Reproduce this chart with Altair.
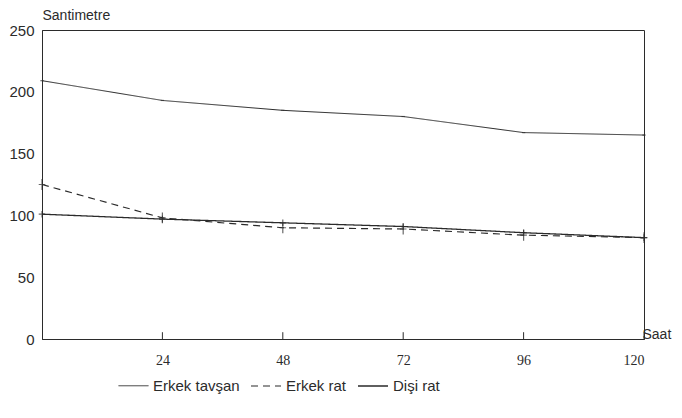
import altair as alt
import pandas as pd

hours = [0, 24, 48, 72, 96, 120]
series_names = ["Erkek tavşan", "Erkek rat", "Dişi rat"]
tavsan = [209, 193, 185, 180, 167, 165]
erkek_rat = [125, 98, 90, 89, 84, 82]
disi_rat = [101, 97, 94, 91, 86, 82]
y_ticks = [0, 50, 100, 150, 200, 250]
x_ticks = [24, 48, 72, 96, 120]

rows = []
for name, vals in zip(series_names, [tavsan, erkek_rat, disi_rat]):
    for h, v in zip(hours, vals):
        rows.append({"Saat": h, "Santimetre": v, "Seri": name})
df = pd.DataFrame(rows)
tick_df = pd.DataFrame({"Saat": x_ticks, "lo": [0] * len(x_ticks), "hi": [5.5] * len(x_ticks)})

ink = "#2b2b2b"
FONT = "Liberation Sans"

x = alt.X("Saat:Q", scale=alt.Scale(domain=[0, 120], nice=False),
          axis=alt.Axis(values=x_ticks, title="Saat", titleAngle=0, titleX=600,
                        titleY=-12, titleAlign="left", titleFontWeight="normal",
                        titleFontSize=14, titleColor=ink, titleFont=FONT,
                        ticks=False, domainColor=ink, grid=False,
                        labelFontSize=14, labelColor=ink, labelPadding=14,
                        labelFont="Liberation Serif"))
y = alt.Y("Santimetre:Q", scale=alt.Scale(domain=[0, 250], nice=False),
          axis=alt.Axis(values=y_ticks, title="Santimetre", titleAngle=0, titleX=0,
                        titleY=-8, titleAlign="left", titleBaseline="bottom",
                        titleFontWeight="normal",
                        titleFontSize=14, titleColor=ink, titleFont=FONT,
                        ticks=False, domainColor=ink, grid=False,
                        labelFontSize=15, labelColor=ink, labelPadding=8, labelFont=FONT))

lines = alt.Chart(df).mark_line(color=ink).encode(
    x=x, y=y,
    strokeDash=alt.StrokeDash("Seri:N", scale=alt.Scale(domain=series_names,
                              range=[[1, 0], [7, 5], [1, 0]]),
                              legend=alt.Legend(title=None, orient="none", legendX=76,
                                                legendY=340, direction="horizontal",
                                                labelFontSize=15, labelFont=FONT,
                                                labelColor=ink, symbolStrokeColor=ink,
                                                symbolType="stroke", symbolSize=900,
                                                symbolStrokeWidth=1.3,
                                                columnPadding=8)),
    strokeWidth=alt.StrokeWidth("Seri:N", scale=alt.Scale(domain=series_names,
                                range=[1, 1.3, 1.6]), legend=None),
)

shapes = {
    "Erkek tavşan": "M-0.3,0H0.3",
    "Erkek rat": "M-0.6,0H0.6M0,-1V1",
    "Dişi rat": "M-0.6,0H0.6M0,-0.6V0.6",
}
point_layers = [
    alt.Chart(df).transform_filter(alt.datum.Seri == name)
    .mark_point(color=ink, filled=False, strokeWidth=1.2, shape=shapes[name], size=120)
    .encode(x=x, y=y)
    for name in series_names
]

ticks = alt.Chart(tick_df).mark_rule(color=ink, strokeWidth=1).encode(
    x=alt.X("Saat:Q"), y=alt.Y("lo:Q"), y2="hi:Q"
)

chart = alt.layer(lines, *point_layers, ticks).properties(
    width=602, height=309,
    autosize=alt.AutoSizeParams(type="none"),
    padding={"left": 34, "top": 22, "right": 30, "bottom": 70},
    background="white",
).configure_view(stroke=ink, strokeWidth=1)

chart.save("out.html", embed_options={"renderer": "svg", "actions": False})
